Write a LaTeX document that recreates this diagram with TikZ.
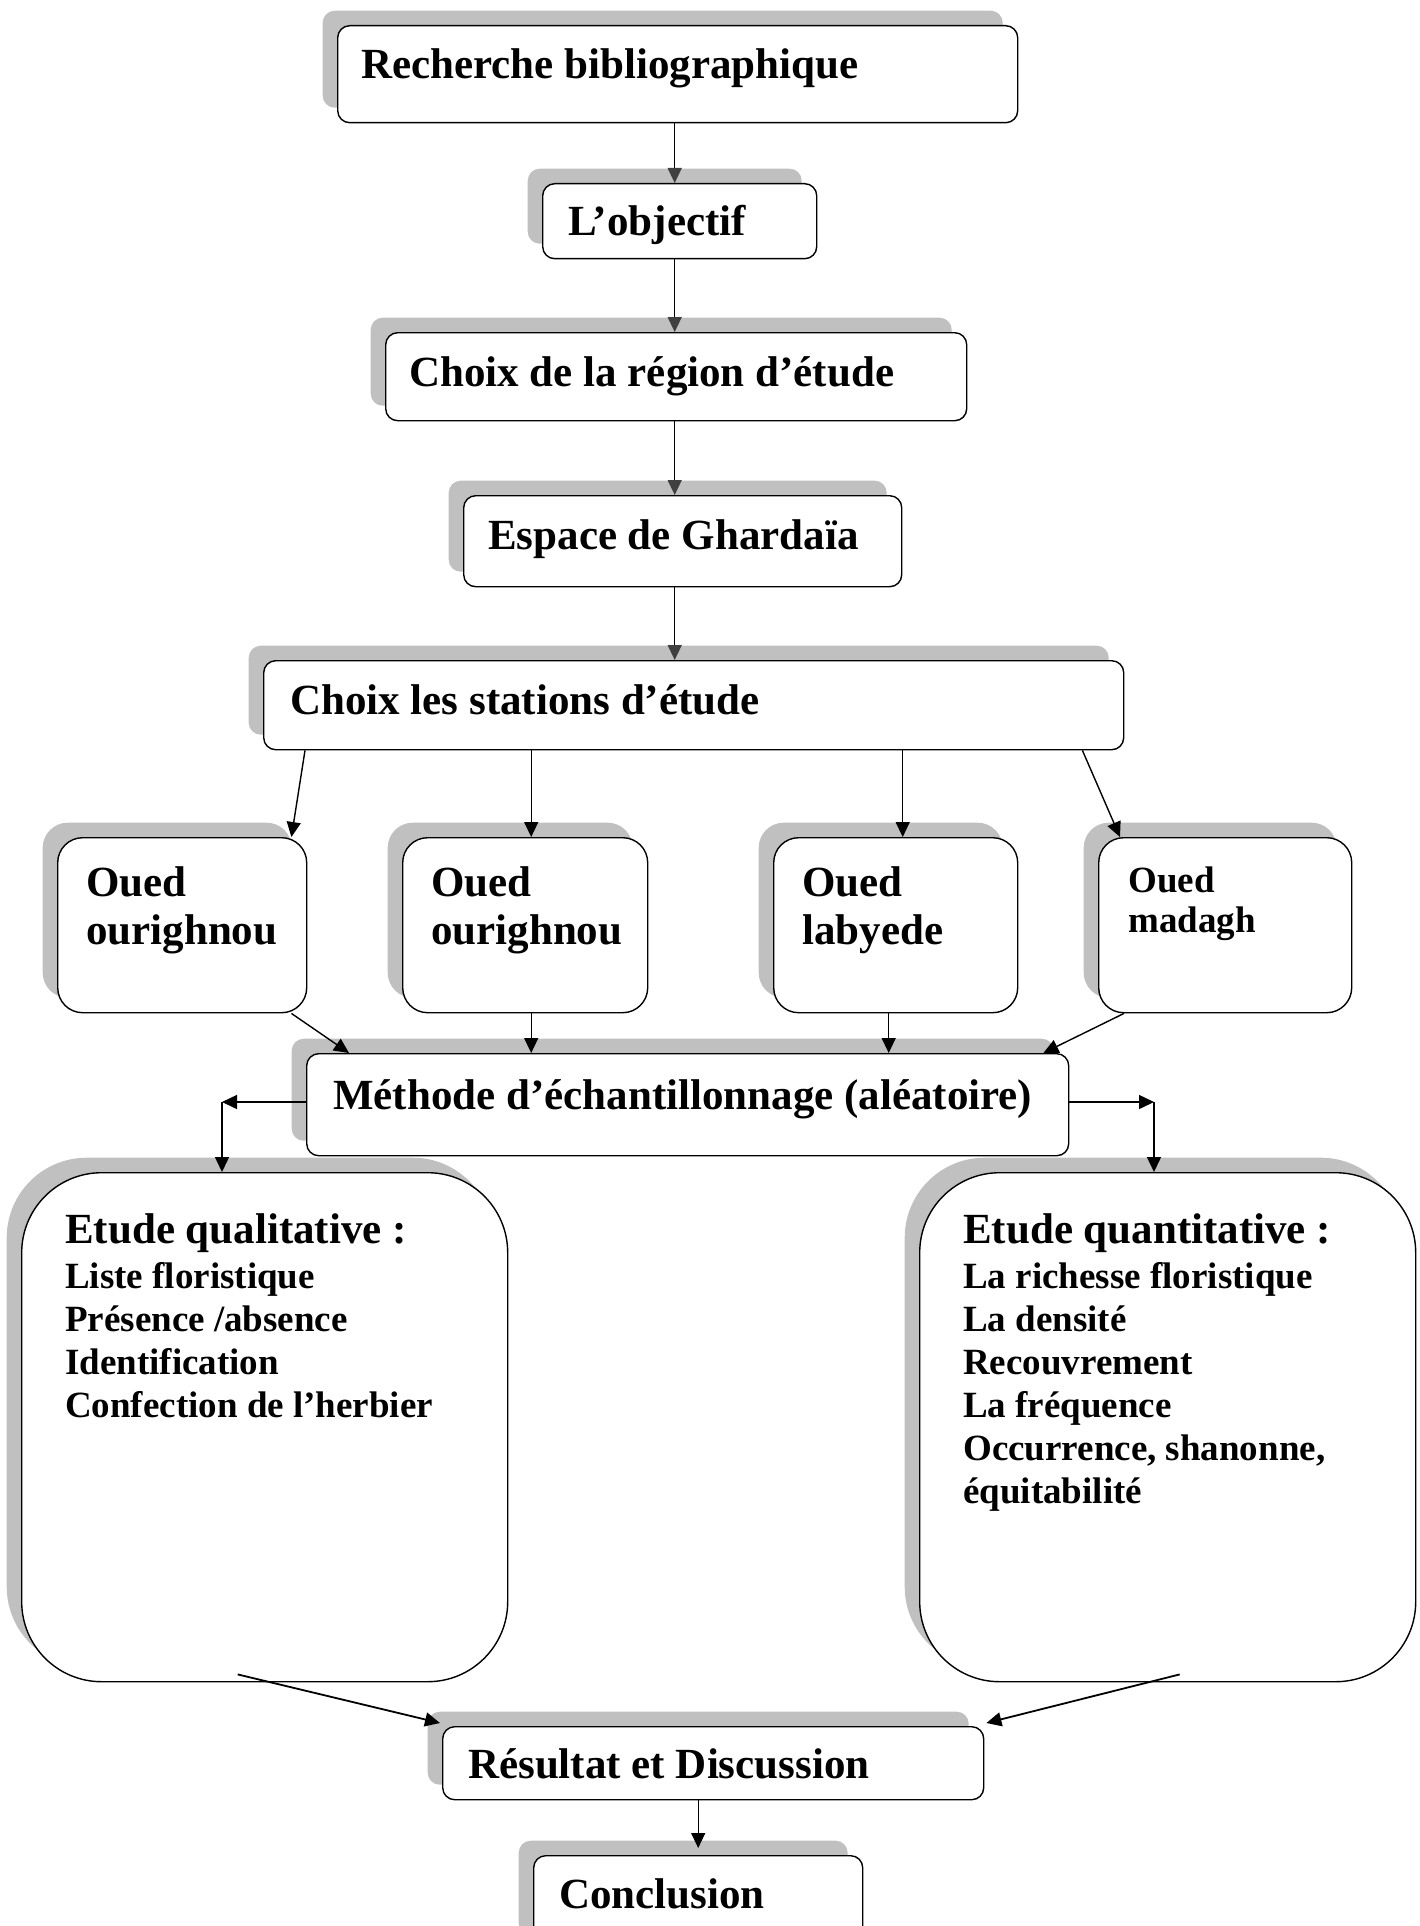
\documentclass[tikz,border=0pt]{standalone}
\usepackage{fontspec}
\setmainfont{Liberation Serif}
\usetikzlibrary{shadows,arrows.meta}
\definecolor{shadowgray}{RGB}{192,192,192}
\definecolor{arrgray}{RGB}{64,64,64}
\begin{document}
\begin{tikzpicture}[x=1pt,y=-1pt,
  boxstyle/.style={draw=black, line width=1.4pt, fill=white, rounded corners=#1,
    anchor=north west, inner sep=0pt,
    drop shadow={shadow xshift=-15pt, shadow yshift=15pt, fill=shadowgray, opacity=1}},
  boxstyle/.default=12pt,
  big/.style={anchor=base west, inner sep=0pt, font=\fontsize{43}{48}\selectfont\bfseries},
  small/.style={anchor=base west, inner sep=0pt, font=\fontsize{37}{43}\selectfont\bfseries},
  toparr/.style={draw=black, line width=1.4pt, -{Triangle[length=15pt,width=14pt,color=arrgray,fill=arrgray]}},
  midarr/.style={draw=black, line width=1.4pt, -{Triangle[length=15pt,width=14pt]}},
  botarr/.style={draw=black, line width=1.8pt, -{Triangle[length=15pt,width=14pt]}}
]
\useasboundingbox (0,0) rectangle (1419,1926);
\begin{scope}
\clip (0,0) rectangle (1419,1926);
% boxes
\node[boxstyle, minimum width=680pt, minimum height=97pt] (b1) at (337,25) {};
\node[boxstyle, minimum width=274pt, minimum height=75pt] (b2) at (542,183) {};
\node[boxstyle, minimum width=581pt, minimum height=88pt] (b3) at (385,332) {};
\node[boxstyle, minimum width=438pt, minimum height=91pt] (b4) at (463,495) {};
\node[boxstyle, minimum width=860pt, minimum height=89pt] (b5) at (263,660) {};
\node[boxstyle=25pt, minimum width=249pt, minimum height=175pt] (oa) at (57,837) {};
\node[boxstyle=25pt, minimum width=245pt, minimum height=175pt] (ob) at (402,837) {};
\node[boxstyle=25pt, minimum width=244pt, minimum height=175pt] (oc) at (773,837) {};
\node[boxstyle=25pt, minimum width=253pt, minimum height=175pt] (od) at (1098,837) {};
\node[boxstyle, minimum width=762pt, minimum height=102pt] (m) at (306,1053) {};
\node[boxstyle=80pt, minimum width=486pt, minimum height=509pt] (ql) at (21,1172) {};
\node[boxstyle=80pt, minimum width=496pt, minimum height=509pt] (qt) at (919,1172) {};
\node[boxstyle, minimum width=541pt, minimum height=73pt] (r) at (442,1726) {};
\node[boxstyle, minimum width=329pt, minimum height=95pt] (c) at (533,1855) {};
% texts
\node[big] (t1) at (361,79) {Recherche bibliographique};
\node[big] (t2) at (568,236) {L’objectif};
\node[big] (t3) at (409,386) {Choix de la région d’étude};
\node[big] (t4) at (488,549) {Espace de Ghardaïa};
\node[big] (t5) at (290,714) {Choix les stations d’étude};
\node[big] (ta1) at (86,896) {Oued};
\node[big] (ta2) at (86,944) {ourighnou};
\node[big] (tb1) at (431,896) {Oued};
\node[big] (tb2) at (431,944) {ourighnou};
\node[big] (tc1) at (802,896) {Oued};
\node[big] (tc2) at (802,944) {labyede};
\node[small] (td1) at (1128,892) {Oued};
\node[small] (td2) at (1128,932) {madagh};
\node[big] (tm) at (333,1109) {Méthode d’échantillonnage (aléatoire)};
\node[big] (tq0) at (65,1243) {Etude qualitative :};
\node[small] (tq1) at (65,1288) {Liste floristique};
\node[small] (tq2) at (65,1331) {Présence /absence};
\node[small] (tq3) at (65,1374) {Identification};
\node[small] (tq4) at (65,1417) {Confection de l’herbier};
\node[big] (tn0) at (963,1243) {Etude quantitative :};
\node[small] (tn1) at (963,1288) {La richesse floristique};
\node[small] (tn2) at (963,1331) {La densité};
\node[small] (tn3) at (963,1374) {Recouvrement};
\node[small] (tn4) at (963,1417) {La fréquence};
\node[small] (tn5) at (963,1460) {Occurrence, shanonne,};
\node[small] (tn6) at (963,1503) {équitabilité};
\node[big] (tr) at (468,1778) {Résultat et Discussion};
\node[big] (tcc) at (559,1908) {Conclusion};
% spine arrows
\draw[toparr] ([xshift=-3pt]b1.south) -- ([xshift=-3pt]b1.south |- b2.north);
\draw[toparr] ([xshift=-3pt]b1.south |- b2.south) -- ([xshift=-3pt]b1.south |- b3.north);
\draw[toparr] ([xshift=-3pt]b1.south |- b3.south) -- ([xshift=-3pt]b1.south |- b4.north);
\draw[toparr] ([xshift=-3pt]b1.south |- b4.south) -- ([xshift=-3pt]b1.south |- b5.north);
% stations
\draw[midarr] ([xshift=42pt]b5.south west) -- ([xshift=-16pt]oa.north east);
\draw[midarr] ([xshift=6pt]ob.north |- b5.south) -- ([xshift=6pt]ob.north);
\draw[midarr] ([xshift=7pt]oc.north |- b5.south) -- ([xshift=7pt]oc.north);
\draw[midarr] ([xshift=-42pt]b5.south east) -- ([xshift=22pt]od.north west);
% to methode
\draw[midarr] ([xshift=-16pt]oa.south east) -- ([xshift=43pt]m.north west);
\draw[midarr] ([xshift=6pt]ob.south) -- ([xshift=6pt]ob.south |- m.north);
\draw[midarr] ([xshift=-7pt]oc.south) -- ([xshift=-7pt]oc.south |- m.north);
\draw[midarr] ([xshift=26pt]od.south west) -- ([xshift=-26pt]m.north east);
% methode to etudes
\coordinate (kl) at (222,1102);
\coordinate (kr) at (1154,1102);
\draw[midarr] (m.west |- kl) -- (kl);
\draw[midarr] (kl) -- (kl |- ql.north);
\draw[midarr] (m.east |- kr) -- (kr);
\draw[midarr] (kr) -- (kr |- qt.north);
% etudes to resultat
\draw[botarr] ([xshift=-27pt,yshift=8pt]ql.south) -- ([xshift=-2pt,yshift=3pt]r.north west);
\draw[botarr] ([xshift=12pt,yshift=8pt]qt.south) -- ([xshift=2pt,yshift=3pt]r.north east);
\draw[midarr] (c.north |- r.south) -- ([yshift=7pt]c.north);
\end{scope}
\end{tikzpicture}
\end{document}
